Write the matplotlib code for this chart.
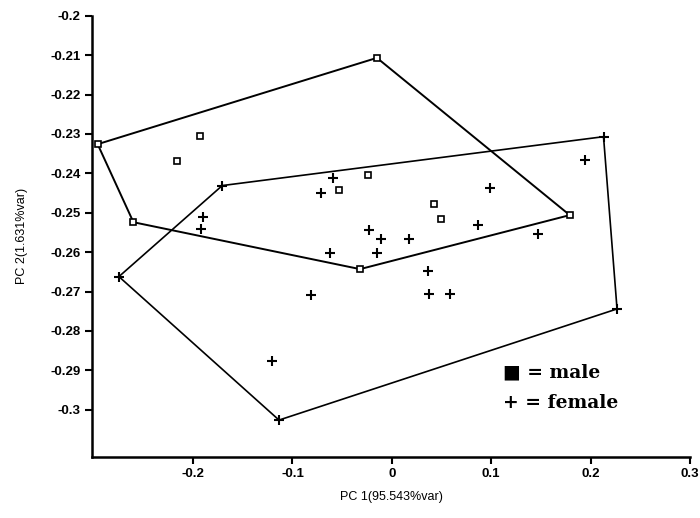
import matplotlib.pyplot as plt

# PCA scores, males
male_x = [-0.015, 0.179, -0.032, -0.260, -0.296, -0.193, -0.2165, -0.0235, -0.0527, 0.042, 0.049]
male_y = [-0.2107, -0.2506, -0.2643, -0.2524, -0.2326, -0.2305, -0.2369, -0.2403, -0.2441, -0.2479, -0.2517]
male_hull = [0, 1, 2, 3, 4, 0]

# PCA scores, females
female_x = [-0.1706, 0.213, 0.2266, -0.1135, -0.2746, -0.0591, -0.0709, -0.190, -0.1917,
            -0.0229, -0.0105, 0.0174, -0.0621, -0.0151, -0.081, -0.1202, 0.099, 0.0862,
            0.1466, 0.0359, 0.0376, 0.0584, 0.1943]
female_y = [-0.2431, -0.2307, -0.2744, -0.3026, -0.2662, -0.2413, -0.2451, -0.2512, -0.2541,
            -0.2544, -0.2567, -0.2567, -0.2603, -0.2603, -0.2708, -0.2877, -0.2438, -0.2531,
            -0.2555, -0.2648, -0.2705, -0.2707, -0.2366]
female_hull = [0, 1, 2, 3, 4, 0]

x_ticks = [-0.2, -0.1, 0, 0.1, 0.2, 0.3]
x_labels = ["-0.2", "-0.1", "0", "0.1", "0.2", "0.3"]
y_ticks = [-0.2, -0.21, -0.22, -0.23, -0.24, -0.25, -0.26, -0.27, -0.28, -0.29, -0.3]
y_labels = ["-0.2", "-0.21", "-0.22", "-0.23", "-0.24", "-0.25", "-0.26", "-0.27", "-0.28", "-0.29", "-0.3"]

plt.rcParams['font.family'] = ['Liberation Sans', 'DejaVu Sans']

fig = plt.figure(figsize=(7, 5.18), dpi=100)
ax = fig.add_axes([0.1314, 0.1183, 0.8543, 0.8514])

# convex hulls
ax.plot([male_x[i] for i in male_hull], [male_y[i] for i in male_hull], color='black', lw=1.4)
ax.plot([female_x[i] for i in female_hull], [female_y[i] for i in female_hull], color='black', lw=1.2)

ax.plot(male_x, male_y, ls='none', marker='s', ms=4.5, mfc='white', mec='black', mew=1.2)
ax.plot(female_x, female_y, ls='none', marker='+', ms=7, mec='black', mew=1.5)

ax.set_xlim(-0.3017, 0.3)
ax.set_ylim(-0.3119, -0.2)
ax.set_xticks(x_ticks)
ax.set_xticklabels(x_labels, fontsize=9.5, fontweight='bold')
ax.set_yticks(y_ticks)
ax.set_yticklabels(y_labels, fontsize=9.5, fontweight='bold')
ax.tick_params(direction='out', length=5, width=1.5, pad=3)

for side in ['top', 'right']:
    ax.spines[side].set_visible(False)
for side in ['left', 'bottom']:
    ax.spines[side].set_linewidth(1.8)

ax.set_xlabel("PC 1(95.543%var)", fontsize=9, labelpad=8)
ax.set_ylabel("PC 2(1.631%var)", fontsize=9, labelpad=16)

# key
ax.text(0.688, 0.19, "\u25a0 = male", transform=ax.transAxes, fontsize=13.5,
        fontweight='bold', family=['DejaVu Serif'], va='center')
ax.text(0.688, 0.122, "+ = female", transform=ax.transAxes, fontsize=13.5,
        fontweight='bold', family=['DejaVu Serif'], va='center')

fig.savefig("out.png", dpi=100)
